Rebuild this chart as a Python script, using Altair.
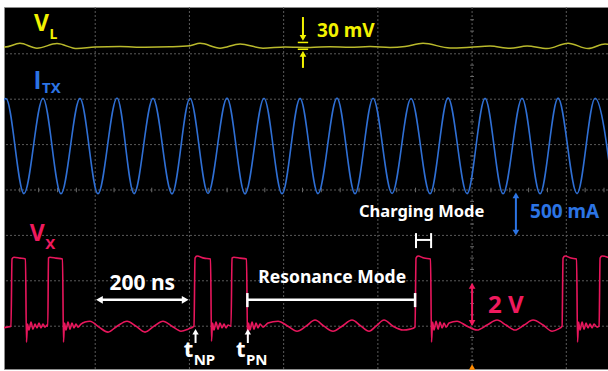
import altair as alt
import pandas as pd

# ---------------------------------------------------------------------------
# Screen geometry: time in ns horizontally, graticule divisions vertically
# (0 = centre line, 8 divisions tall).
# ---------------------------------------------------------------------------
T_DOMAIN = [6.4, 1288.5]
D_DOMAIN = [-3.943, 4.031]

# channel settings: units per division and vertical position (div)
VL_MV_DIV, VL_POS = 200.0, 3.15     # V_L   (mV)
ITX_MA_DIV, ITX_POS = 500.0, 0.97   # I_TX  (mA)
VX_V_DIV, VX_POS = 2.0, -3.02       # V_X   (V)

# ---------------------------------------------------------------------------
# Captured waveforms
# ---------------------------------------------------------------------------
vl_time = [0, 8.5, 40.3, 76.4, 118.9, 161.3, 199.6, 252.6, 305.7, 358.8,
           401.2, 422.5, 464.9, 507.4, 556.2, 602.9, 656.0, 698.5, 740.9,
           783.4, 825.8, 857.7, 895.9, 953.2, 995.7, 1038.1, 1080.6, 1116.7,
           1159.2, 1203.7, 1246.2, 1282.3, 1293.0]
vl_mv = [2, 0, 16, -5, 15, -7, 0, 2, -1, 1,
         6, 16, -5, 13, -5, 0, -2, 1, -1,
         2, -2, 2, 16, -4, -1, 4, -6, 4,
         -7, 17, -7, 13, 10]

itx_time = [-28.0, 10.6, 48.8, 89.2, 127.4, 167.7, 205.9, 246.3, 282.4,
            322.7, 363.0, 401.2, 439.5, 479.8, 518.0, 558.3, 596.6, 634.8,
            673.0, 713.3, 751.5, 789.8, 830.1, 870.4, 910.8, 949.0, 989.3,
            1027.5, 1065.7, 1106.1, 1144.3, 1182.5, 1222.8, 1261.1, 1299.3]
itx_ma = [-520, 522, -525, 525, -527, 524, -526, 528, -525,
          524, -528, 526, -524, 527, -528, 525, -526, 524,
          -525, 527, -526, 525, -524, 522, -527, 530, -525,
          524, -526, 525, -527, 527, -525, 526, -525]

vx_time = [2.1, 12.7, 21.2, 23.4, 27.6, 40.3, 52.0, 54.1, 56.3, 59.4,
           63.7, 67.9, 72.2, 76.4, 80.7, 84.9, 89.2, 93.4, 97.7, 99.4,
           100.8, 104.0, 116.8, 130.6, 132.7, 134.8, 138.0, 142.2, 146.5, 150.7,
           155.0, 159.2, 163.5, 169.8, 178.3, 188.9, 208.1, 227.2, 246.3, 267.5,
           286.6, 305.7, 324.8, 343.9, 363.0, 382.1, 397.0, 409.7, 411.9, 416.1,
           430.9, 444.8, 446.9, 449.0, 452.2, 456.4, 460.7, 464.9, 469.2, 473.4,
           477.7, 481.9, 488.3, 490.4, 494.6, 507.4, 521.2, 523.3, 525.4, 528.6,
           532.9, 537.1, 541.4, 545.6, 549.9, 556.2, 566.8, 588.1, 609.3, 628.4,
           647.5, 666.6, 685.7, 704.8, 723.9, 745.2, 764.3, 781.3, 796.1, 813.1,
           832.2, 853.4, 868.3, 878.9, 881.0, 885.3, 898.0, 911.8, 913.9, 916.1,
           919.3, 923.5, 927.8, 932.0, 936.3, 940.5, 944.7, 951.1, 968.1, 989.3,
           1010.5, 1031.8, 1053.0, 1072.1, 1091.2, 1110.3, 1129.4, 1150.7, 1169.8, 1182.5,
           1191.0, 1193.1, 1197.4, 1210.1, 1221.8, 1223.9, 1226.0, 1229.2, 1233.5, 1237.7,
           1242.0, 1246.2, 1250.4, 1254.7, 1258.9, 1265.3, 1269.6, 1271.7, 1275.9, 1292.9]
vx_volt = [-0.04, 0.00, 0.04, 3.00, 3.08, 3.04, 3.00, -0.66, 0.13, -0.13,
           0.22, -0.09, 0.13, -0.04, 0.18, -0.04, 0.13, 0.00, 0.09, 0.04,
           3.04, 3.08, 3.04, 3.00, -0.66, 0.18, -0.13, 0.22, -0.09, 0.18,
           -0.04, 0.13, 0.00, 0.13, 0.22, 0.26, 0.00, -0.22, 0.04, 0.26,
           0.04, -0.22, 0.04, 0.26, 0.04, -0.18, -0.09, 0.04, 3.04, 3.13,
           3.04, 3.00, -0.62, 0.18, -0.13, 0.22, -0.09, 0.18, -0.04, 0.13,
           -0.04, 0.09, 0.04, 3.04, 3.08, 3.04, 3.00, -0.48, 0.18, -0.13,
           0.22, -0.09, 0.18, -0.04, 0.13, 0.00, 0.18, 0.26, 0.04, -0.18,
           0.04, 0.31, 0.04, -0.18, 0.04, 0.31, 0.04, -0.18, 0.04, 0.31,
           0.04, -0.13, -0.09, 0.00, 3.04, 3.13, 3.04, 3.00, -0.66, 0.22,
           -0.13, 0.26, -0.09, 0.22, -0.04, 0.18, 0.00, 0.18, 0.26, 0.04,
           -0.13, 0.09, 0.31, 0.09, -0.13, 0.09, 0.31, 0.09, -0.18, -0.09,
           0.04, 3.04, 3.13, 3.04, 3.00, -0.66, 0.22, -0.13, 0.22, -0.09,
           0.18, -0.04, 0.13, -0.04, 0.13, 0.00, 0.04, 3.04, 3.13, 3.04]

# graticule
GRID_T = [200, 400, 600, 800, 1000, 1200]
GRID_D = [-3, -2, -1, 0, 1, 2, 3]
CENTER_T, CENTER_D = 1000, 0

# colours
YELLOW_TRACE, YELLOW_TEXT = "#b9b92c", "#f2f200"
BLUE_TRACE, BLUE_TEXT = "#2f6fd4", "#2c74e4"
PINK_TRACE, PINK_TEXT = "#e8165c", "#ef1a5e"
WHITE = "#ffffff"
FONT = "Noto Sans"


def vl_div(mv):
    return VL_POS + mv / VL_MV_DIV


def itx_div(ma):
    return ITX_POS + ma / ITX_MA_DIV


def vx_div(v):
    return VX_POS + v / VX_V_DIV


def X(field="t"):
    return alt.X(f"{field}:Q", scale=alt.Scale(domain=T_DOMAIN, nice=False, zero=False), axis=None)


def Y(field="d"):
    return alt.Y(f"{field}:Q", scale=alt.Scale(domain=D_DOMAIN, nice=False, zero=False), axis=None)


def trace(times, divs, color, width):
    df = pd.DataFrame({"t": times, "d": divs})
    return alt.Chart(df).mark_line(
        color=color, strokeWidth=width, interpolate="monotone", clip=True
    ).encode(x=X(), y=Y(), order="t:Q")


def seg(t1, d1, t2, d2, color, width):
    df = pd.DataFrame({"t": [t1], "t2": [t2], "d": [d1], "d2": [d2]})
    return alt.Chart(df).mark_rule(color=color, strokeWidth=width).encode(
        x=X(), x2="t2:Q", y=Y(), y2="d2:Q")


def head(t, d, shape, color, size):
    df = pd.DataFrame({"t": [t], "d": [d]})
    return alt.Chart(df).mark_point(
        shape=shape, filled=True, color=color, size=size, opacity=1, strokeWidth=0
    ).encode(x=X(), y=Y())


def label(text, t, d, size, color, align="left", weight="bold", font=FONT):
    df = pd.DataFrame({"t": [t], "d": [d], "txt": [text]})
    return alt.Chart(df).mark_text(
        font=font, fontSize=size, fontWeight=weight, color=color,
        align=align, baseline="alphabetic"
    ).encode(x=X(), y=Y(), text="txt:N")


layers = []

# --- graticule ------------------------------------------------------------
layers.append(alt.Chart(pd.DataFrame({"t": GRID_T})).mark_rule(
    color="#5a5a5a", strokeWidth=1, strokeDash=[2, 2]).encode(x=X()))
layers.append(alt.Chart(pd.DataFrame({"d": GRID_D})).mark_rule(
    color="#5a5a5a", strokeWidth=1, strokeDash=[2, 2]).encode(y=Y()))

minor_d = [k * 0.25 for k in range(-15, 17) if k % 4 != 0]
minor_t = [CENTER_T + k * 40 for k in range(-25, 8) if k % 5 != 0]
layers.append(alt.Chart(pd.DataFrame({"d": minor_d, "t": [CENTER_T - 4] * len(minor_d),
                                      "t2": [CENTER_T + 4] * len(minor_d)}))
              .mark_rule(color="#6a6a6a", strokeWidth=1)
              .encode(x=X(), x2="t2:Q", y=Y()))
layers.append(alt.Chart(pd.DataFrame({"t": minor_t, "d": [CENTER_D - 0.05] * len(minor_t),
                                      "d2": [CENTER_D + 0.05] * len(minor_t)}))
              .mark_rule(color="#6a6a6a", strokeWidth=1)
              .encode(x=X(), y=Y(), y2="d2:Q"))

# --- traces ---------------------------------------------------------------
layers.append(trace(vl_time, [vl_div(v) for v in vl_mv], YELLOW_TRACE, 1.5))
layers.append(trace(itx_time, [itx_div(v) for v in itx_ma], BLUE_TRACE, 1.6))
layers.append(trace(vx_time, [vx_div(v) for v in vx_volt], PINK_TRACE, 1.6))

# --- channel names --------------------------------------------------------
layers.append(label("V", 70, 3.50, 23, YELLOW_TEXT))
layers.append(label("L", 103, 3.33, 14, YELLOW_TEXT))
layers.append(label("I", 70, 2.22, 25, BLUE_TEXT, font="Liberation Sans"))
layers.append(label("TX", 87, 2.13, 15, BLUE_TEXT))
layers.append(label("V", 61, -1.12, 23, PINK_TEXT))
layers.append(label("X", 94, -1.29, 15, PINK_TEXT))

# --- 30 mV marker on V_L --------------------------------------------------
layers.append(seg(630, vl_div(20), 652, vl_div(20), YELLOW_TEXT, 1.5))
layers.append(seg(630, vl_div(-10), 652, vl_div(-10), YELLOW_TEXT, 1.5))
layers.append(seg(641, vl_div(132), 641, vl_div(40), YELLOW_TEXT, 2))
layers.append(head(641, vl_div(40), "triangle-down", YELLOW_TEXT, 45))
layers.append(seg(641, vl_div(-92), 641, vl_div(-30), YELLOW_TEXT, 2))
layers.append(head(641, vl_div(-30), "triangle-up", YELLOW_TEXT, 45))
layers.append(label("30 mV", 671, 3.36, 19, YELLOW_TEXT))

# --- 500 mA marker on I_TX ------------------------------------------------
layers.append(seg(1093, itx_div(-540), 1093, itx_div(-960), BLUE_TEXT, 2))
layers.append(head(1093, itx_div(-545), "triangle-up", BLUE_TEXT, 45))
layers.append(head(1093, itx_div(-955), "triangle-down", BLUE_TEXT, 45))
layers.append(label("500 mA", 1123, -0.606, 19, BLUE_TEXT))

# --- 2 V marker on V_X ----------------------------------------------------
layers.append(seg(1000, vx_div(0.1), 1000, vx_div(1.9), PINK_TEXT, 2))
layers.append(head(1000, vx_div(1.82), "triangle-up", PINK_TEXT, 45))
layers.append(head(1000, vx_div(0.18), "triangle-down", PINK_TEXT, 45))
layers.append(label("2 V", 1034, -2.71, 24, PINK_TEXT))

# --- 200 ns span ----------------------------------------------------------
layers.append(seg(210, -2.42, 390, -2.42, WHITE, 2.5))
layers.append(head(209, -2.42, "triangle-left", WHITE, 60))
layers.append(head(391, -2.42, "triangle-right", WHITE, 60))
layers.append(label("200 ns", 300, -2.20, 21, WHITE, align="center"))

# --- Resonance Mode bracket -----------------------------------------------
layers.append(seg(523, -2.42, 879, -2.42, WHITE, 2.5))
layers.append(seg(523, -2.27, 523, -2.58, WHITE, 2.5))
layers.append(seg(879, -2.27, 879, -2.58, WHITE, 2.5))
layers.append(label("Resonance Mode", 703, -2.05, 17.5, WHITE, align="center"))

# --- Charging Mode bracket ------------------------------------------------
layers.append(seg(881, -1.10, 913, -1.10, WHITE, 2))
layers.append(seg(881, -0.95, 881, -1.28, WHITE, 2))
layers.append(seg(913, -0.95, 913, -1.28, WHITE, 2))
layers.append(label("Charging Mode", 760, -0.595, 16.5, WHITE))

# --- switching instants ---------------------------------------------------
for t_edge, sub in [(413, "NP"), (524, "PN")]:
    layers.append(seg(t_edge, -3.37, t_edge, -3.16, WHITE, 2))
    layers.append(head(t_edge, -3.12, "triangle-up", WHITE, 40))
    layers.append(label("t", t_edge - 5, -3.68, 22, WHITE, align="right"))
    layers.append(label(sub, t_edge - 4, -3.85, 15, WHITE))

# --- trigger position marker ---------------------------------------------
layers.append(head(CENTER_T, -3.9, "triangle-up", "#ff8a00", 40))

chart = alt.layer(*layers).properties(
    width=604,
    height=362,
    background="white",
    padding={"left": 4, "top": 7, "right": 0, "bottom": 2},
    autosize=alt.AutoSizeParams(type="none"),
).configure_view(fill="#000000", stroke="#8c8c8c", strokeWidth=1)

chart.save("out.html", embed_options={"renderer": "svg", "actions": False})
